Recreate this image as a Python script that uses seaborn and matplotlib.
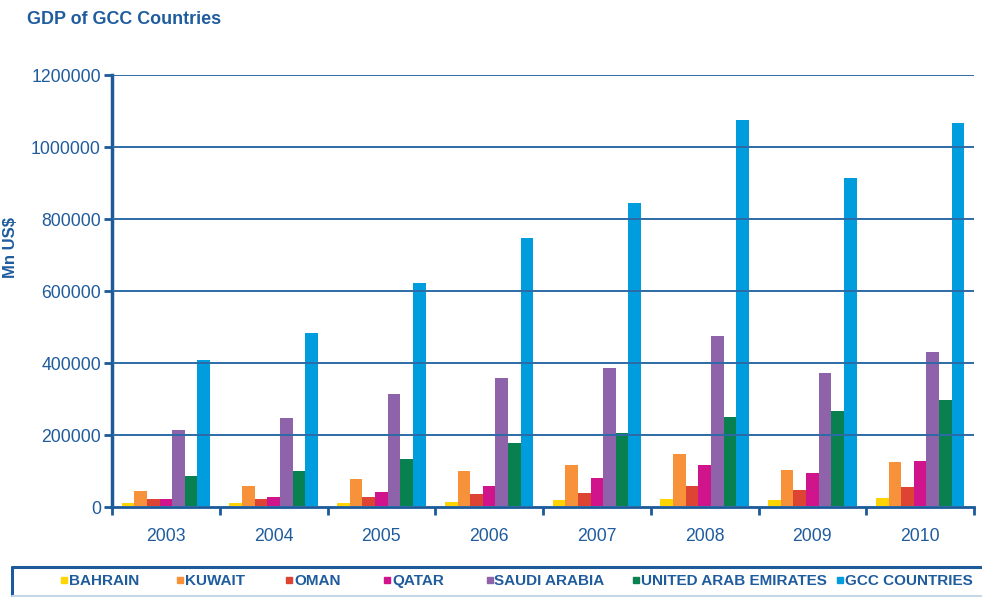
import matplotlib
matplotlib.use("Agg")
import matplotlib.pyplot as plt
import numpy as np
import pandas as pd
import seaborn as sns
from matplotlib.lines import Line2D

# GDP by country, million US$
years = ["2003", "2004", "2005", "2006", "2007", "2008", "2009", "2010"]
bahrain = [11000, 11000, 12000, 15700, 20000, 24000, 20000, 25000]
kuwait = [46000, 58000, 79000, 100000, 117000, 148000, 104000, 125000]
oman = [23000, 23000, 30000, 37000, 39000, 60000, 48000, 57000]
qatar = [23000, 30000, 42000, 60000, 81000, 117000, 94000, 129000]
saudi_arabia = [215000, 247000, 315000, 358000, 386000, 477000, 372000, 432000]
uae = [86000, 102000, 134000, 178000, 206000, 252000, 268000, 298000]
gcc_total = [409000, 483000, 622000, 747000, 844000, 1076000, 914000, 1067000]

countries = ["BAHRAIN", "KUWAIT", "OMAN", "QATAR", "SAUDI ARABIA",
             "UNITED ARAB EMIRATES", "GCC COUNTRIES"]
series = [bahrain, kuwait, oman, qatar, saudi_arabia, uae, gcc_total]
colors = ["#FFD400", "#F7923A", "#DD4433", "#D0148C", "#8F63A9", "#08804F", "#009DDE"]

df = pd.DataFrame(
    [(y, c, v) for c, vals in zip(countries, series) for y, v in zip(years, vals)],
    columns=["year", "country", "gdp"],
)

DARK = "#1D5A99"
TEXT = "#1F5C9E"
W, H = 982, 597

sns.set_theme(style="white")
plt.rcParams["font.family"] = ["Liberation Sans", "DejaVu Sans"]

fig = plt.figure(figsize=(W / 100, H / 100), dpi=100)
ax = fig.add_axes([112 / W, 1 - 507.3 / H, 862 / W, 432 / H])

sns.barplot(data=df, x="year", y="gdp", hue="country", hue_order=countries,
            palette=colors, width=0.82, saturation=1, linewidth=0,
            ax=ax, legend=False)

ax.set_ylim(0, 1200000)
ax.set_xlim(-0.5, 7.5)
yt = np.arange(0, 1200001, 200000)
ax.set_yticks(yt)
ax.set_yticklabels([f"{int(v)}" for v in yt])
ax.yaxis.grid(True, color="#2D6AA6", lw=1.4)
ax.xaxis.grid(False)
ax.set_axisbelow(False)

for s in ("top", "right"):
    ax.spines[s].set_visible(False)
ax.spines["left"].set_color(DARK)
ax.spines["left"].set_linewidth(2.5)
ax.spines["bottom"].set_color(DARK)
ax.spines["bottom"].set_linewidth(2)

ax.tick_params(axis="y", which="major", direction="out", length=6, width=2,
               color=DARK, labelcolor=TEXT, labelsize=12.7, pad=2, left=True)
ax.set_xticks(range(len(years)))
ax.set_xticklabels(years)
ax.set_xticks(np.arange(-0.5, len(years), 1), minor=True)
ax.tick_params(axis="x", which="major", length=0, labelcolor=TEXT,
               labelsize=12.7, pad=15)
ax.tick_params(axis="x", which="minor", direction="out", length=6, width=2,
               color=DARK, bottom=True)

ax.set_xlabel("")
ax.set_ylabel("Mn US$", color=TEXT, fontsize=12, fontweight="bold")
ax.yaxis.set_label_coords((18 - 112) / 862, (507.3 - 248) / 432)

fig.text(27 / W, 1 - 20 / H, "GDP of GCC Countries", ha="left", va="center",
         fontsize=12.9, fontweight="bold", color=TEXT)

# Legend strip along the bottom: square swatch followed by the country name
legend_y = 1 - 581 / H
swatch_x = [63.5, 180, 289, 387, 489.5, 636, 840]
for name, col, sx in zip(countries, colors, swatch_x):
    fig.add_artist(Line2D([sx / W], [legend_y + 1 / H], transform=fig.transFigure,
                          marker="s", ls="", markersize=4.5, color=col))
    fig.text((sx + 5) / W, legend_y, name, ha="left", va="center",
             fontsize=11, fontweight="bold", color=TEXT)

y_top = 1 - 567 / H
y_bot = 1 - 596 / H
fig.add_artist(Line2D([12 / W, 1], [y_top, y_top], transform=fig.transFigure,
                      color=DARK, lw=2.2))
fig.add_artist(Line2D([12 / W, 12 / W], [y_top, y_bot], transform=fig.transFigure,
                      color=DARK, lw=2.2))
fig.add_artist(Line2D([12 / W, 1], [y_bot, y_bot], transform=fig.transFigure,
                      color="#C5D6E6", lw=1.5))

fig.savefig("out.png", dpi=100)
